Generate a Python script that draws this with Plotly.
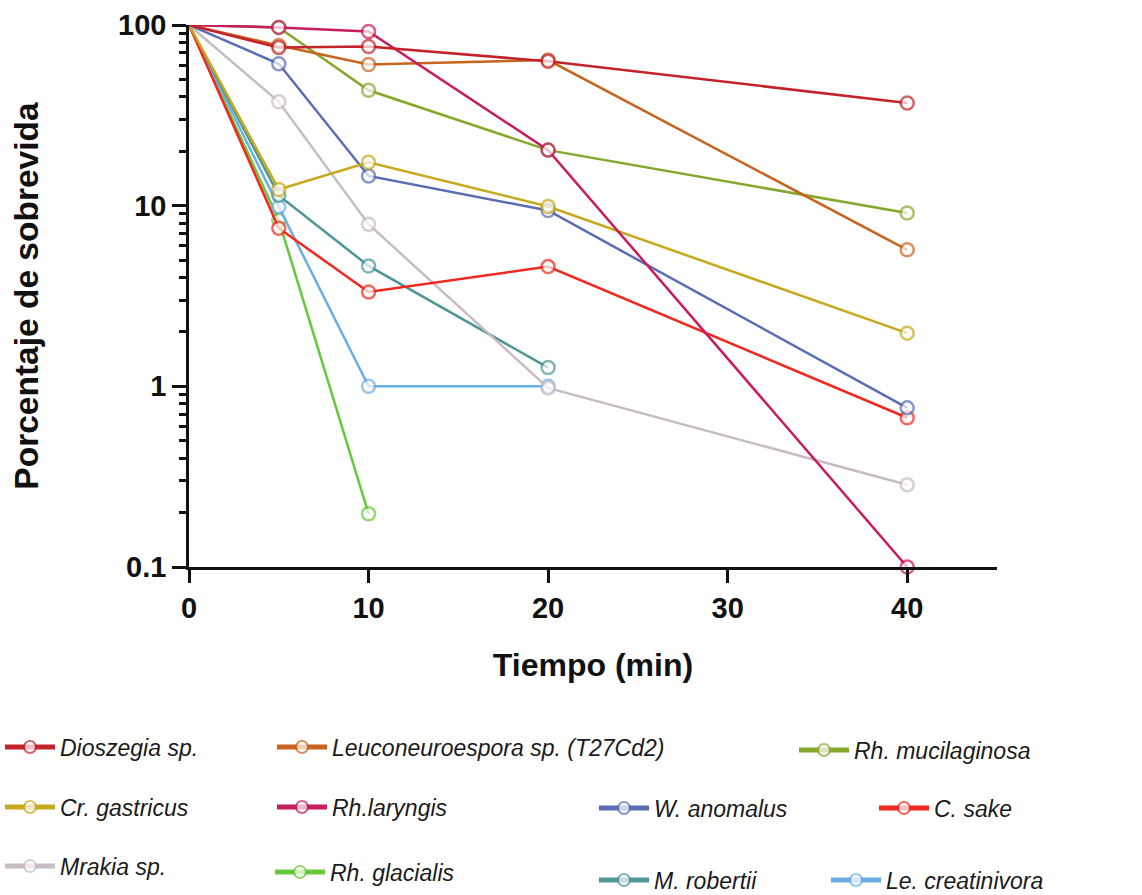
import plotly.graph_objects as go

# ---- data ----
time_full = [0, 5, 10, 20, 40]
time_20 = [0, 5, 10, 20]
time_10 = [0, 5, 10]

dioszegia = [100, 75, 76, 63, 37]
leuconeuro = [100, 77, 60.5, 64, 5.7]
mucilaginosa = [100, 97, 43.5, 20.3, 9.1]
gastricus = [100, 12.3, 17.4, 9.9, 1.97]
laryngis = [100, 97, 92, 20.3, 0.1]
anomalus = [100, 61, 14.6, 9.4, 0.76]
sake = [100, 7.5, 3.33, 4.6, 0.67]
mrakia = [100, 37.6, 7.9, 0.98, 0.285]
glacialis = [100, 8.3, 0.197]
robertii = [100, 11.4, 4.64, 1.27]
creatinivora = [100, 9.85, 1.0, 1.0]

names = ["Dioszegia sp.", "Leuconeuroespora sp. (T27Cd2)", "Rh. mucilaginosa",
         "Cr. gastricus", "Rh.laryngis", "W. anomalus", "C. sake",
         "Mrakia sp.", "Rh. glacialis", "M. robertii", "Le. creatinivora"]

colors = {
    "Dioszegia sp.": "#c4232b",
    "Leuconeuroespora sp. (T27Cd2)": "#c8641e",
    "Rh. mucilaginosa": "#84a82c",
    "Cr. gastricus": "#c8a91e",
    "Rh.laryngis": "#c81c5c",
    "W. anomalus": "#5a6cb4",
    "C. sake": "#f0281e",
    "Mrakia sp.": "#c8bcc4",
    "Rh. glacialis": "#66c83a",
    "M. robertii": "#4e9696",
    "Le. creatinivora": "#6caee6",
}

series = {
    "Dioszegia sp.": (time_full, dioszegia),
    "Leuconeuroespora sp. (T27Cd2)": (time_full, leuconeuro),
    "Rh. mucilaginosa": (time_full, mucilaginosa),
    "Cr. gastricus": (time_full, gastricus),
    "Rh.laryngis": (time_full, laryngis),
    "W. anomalus": (time_full, anomalus),
    "C. sake": (time_full, sake),
    "Mrakia sp.": (time_full, mrakia),
    "Rh. glacialis": (time_10, glacialis),
    "M. robertii": (time_20, robertii),
    "Le. creatinivora": (time_20, creatinivora),
}

# drawing order (bottom to top)
draw_order = ["Rh. glacialis", "Le. creatinivora", "M. robertii", "Mrakia sp.",
              "C. sake", "W. anomalus", "Cr. gastricus", "Rh. mucilaginosa",
              "Leuconeuroespora sp. (T27Cd2)", "Rh.laryngis", "Dioszegia sp."]

# legend placement (pixel positions of each entry: left edge, vertical centre)
legend_pos = {
    "Dioszegia sp.": (0, 747),
    "Leuconeuroespora sp. (T27Cd2)": (272, 747),
    "Rh. mucilaginosa": (794, 750),
    "Cr. gastricus": (0, 807),
    "Rh.laryngis": (272, 807),
    "W. anomalus": (594, 808),
    "C. sake": (874, 808),
    "Mrakia sp.": (0, 866),
    "Rh. glacialis": (270, 872),
    "M. robertii": (594, 880),
    "Le. creatinivora": (826, 880),
}

W, H = 1142, 895
ML, MR, MT, MB = 189, 145, 25, 328
PW, PH = W - ML - MR, H - MT - MB

fig = go.Figure()
legend_layout = {}
for i, nm in enumerate(names):
    key = "legend" if i == 0 else f"legend{i+1}"
    px, py = legend_pos[nm]
    legend_layout[key] = dict(
        x=(px - ML) / PW, y=(H - MB - py) / PH,
        xanchor="left", yanchor="middle",
        bgcolor="rgba(0,0,0,0)", borderwidth=0,
        font=dict(family="Liberation Sans, Arial, sans-serif", size=23,
                  style="italic", color="#1a1a1a"),
        itemsizing="constant", itemwidth=50,
        itemclick=False, itemdoubleclick=False,
    )

for nm in draw_order:
    xs, ys = series[nm]
    i = names.index(nm)
    key = "legend" if i == 0 else f"legend{i+1}"
    sizes = [0] + [13] * (len(xs) - 1)
    fig.add_trace(go.Scatter(
        x=xs, y=ys, name=nm, mode="lines+markers",
        line=dict(color=colors[nm], width=2.5),
        marker=dict(symbol="circle", size=sizes, color="white",
                    line=dict(color=colors[nm], width=2.5)),
        cliponaxis=False, legend=key, showlegend=True,
    ))

minor_vals = [m * 10 ** e for e in (-1, 0, 1) for m in range(2, 10)]

fig.update_layout(
    width=W, height=H,
    margin=dict(l=ML, r=MR, t=MT, b=MB, autoexpand=False),
    paper_bgcolor="white", plot_bgcolor="white",
    font=dict(family="Liberation Sans, Arial, sans-serif", color="#111111"),
    xaxis=dict(
        range=[0, 45], tickvals=[0, 10, 20, 30, 40],
        ticks="outside", ticklen=13, tickwidth=2.5, tickcolor="#111111",
        showline=True, linecolor="#111111", linewidth=2.5,
        showgrid=False, zeroline=False,
        tickfont=dict(size=29, weight="bold", color="#111111"),
        title=dict(text="Tiempo (min)", standoff=32,
                   font=dict(size=32, weight="bold", color="#111111")),
    ),
    yaxis=dict(
        type="log", range=[-1, 2],
        tickvals=[0.1, 1, 10, 100], ticktext=["0.1", "1", "10", "100"],
        ticks="outside", ticklen=14, tickwidth=2.5, tickcolor="#111111",
        minor=dict(tickvals=minor_vals, ticks="outside", ticklen=7,
                   tickwidth=2.5, tickcolor="#111111", showgrid=False),
        showline=True, linecolor="#111111", linewidth=2.5,
        showgrid=False, zeroline=False,
        tickfont=dict(size=29, weight="bold", color="#111111"),
        title=dict(text="Porcentaje de sobrevida", standoff=70,
                   font=dict(size=33.5, weight="bold", color="#111111")),
    ),
    **legend_layout,
)

fig.write_html("out.html")
